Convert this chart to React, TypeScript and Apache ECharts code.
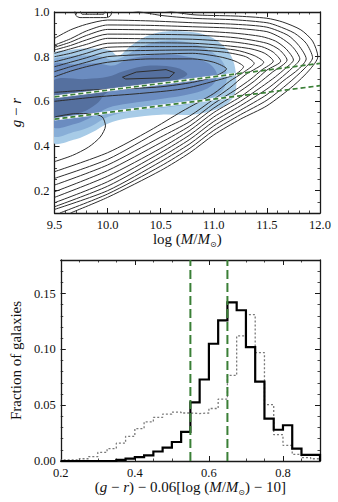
import React, { useEffect, useRef } from "react";
import * as echarts from "echarts";

const FONT = '"Liberation Serif", "DejaVu Serif", serif';
const AX = "#1a1a1a";

// ---------- top panel data ----------
const massTicks = [9.5, 10.0, 10.5, 11.0, 11.5, 12.0];
const colorTicks = [0.2, 0.4, 0.6, 0.8, 1.0];
const massRange = [9.5, 12.0];
const colorRange = [0.1, 1.0];

const cutMass = [9.5, 12.0];
const upperCut = [0.62, 0.77];
const lowerCut = [0.52, 0.67];
const whiteMass = [9.5, 11.2];
const upperWhite = [0.62, 0.722];
const lowerWhite = [0.52, 0.622];

const fillOuter = [[9.48,0.42],[9.7,0.43],[9.85,0.46],[10.0,0.5],[10.2,0.525],[10.5,0.54],[10.8,0.54],[11.0,0.56],[11.13,0.59],[11.2,0.636],[11.21,0.71],[11.18,0.785],[11.1,0.845],[10.95,0.893],[10.76,0.912],[10.52,0.912],[10.36,0.89],[10.21,0.845],[10.1,0.803],[10.02,0.83],[9.83,0.837],[9.65,0.83],[9.48,0.807]];
const fillMid = [[9.48,0.45],[9.7,0.465],[9.85,0.49],[10.0,0.53],[10.2,0.555],[10.5,0.57],[10.8,0.59],[11.0,0.62],[11.1,0.66],[11.12,0.72],[11.08,0.78],[10.95,0.83],[10.75,0.865],[10.5,0.87],[10.3,0.84],[10.15,0.8],[10.05,0.785],[9.95,0.8],[9.8,0.805],[9.6,0.8],[9.48,0.78]];
const fillDark = [[9.48,0.49],[9.7,0.5],[9.85,0.53],[10.0,0.57],[10.2,0.59],[10.5,0.61],[10.8,0.635],[10.98,0.67],[11.03,0.72],[10.95,0.77],[10.75,0.8],[10.5,0.81],[10.2,0.79],[10.05,0.76],[9.9,0.77],[9.7,0.765],[9.48,0.76]];
const fillDarkest = [[9.48,0.54],[9.75,0.55],[9.9,0.59],[10.0,0.64],[10.3,0.665],[10.6,0.69],[10.75,0.72],[10.65,0.75],[10.4,0.76],[10.15,0.735],[10.0,0.71],[9.8,0.7],[9.48,0.69]];
const fillShapes = [fillOuter, fillMid, fillDark, fillDarkest];
const fillColors = ["#a7cbe7", "#88aed7", "#6b8cc0", "#55709f"];

const contourLines = [
  [[9.65,0.1],[10.0,0.17],[10.5,0.29],[10.775,0.37],[11.0,0.45],[11.25,0.52],[11.5,0.58],[11.75,0.67],[11.9,0.74],[11.98,0.8],[11.93,0.87],[11.82,0.92],[11.65,0.955],[11.5,0.972],[11.2,0.982],[10.8,0.988],[10.5,1.01]],
  [[9.55,0.1],[10.0,0.185],[10.5,0.31],[10.775,0.39],[11.0,0.47],[11.25,0.54],[11.5,0.605],[11.7,0.68],[11.85,0.745],[11.93,0.795],[11.87,0.86],[11.76,0.905],[11.6,0.938],[11.5,0.952],[11.2,0.965],[10.8,0.972],[10.5,0.985],[10.2,1.01]],
  [[9.5,0.116],[10.0,0.2],[10.5,0.33],[10.775,0.41],[11.0,0.49],[11.25,0.56],[11.5,0.63],[11.65,0.69],[11.8,0.745],[11.87,0.79],[11.8,0.85],[11.7,0.895],[11.5,0.932],[11.2,0.945],[10.8,0.952],[10.4,0.96],[10.0,0.964],[9.8,0.945],[9.65,0.92],[9.5,0.882]],
  [[9.5,0.128],[10.0,0.22],[10.5,0.35],[10.775,0.43],[11.0,0.51],[11.25,0.58],[11.5,0.655],[11.62,0.7],[11.74,0.75],[11.81,0.79],[11.74,0.845],[11.63,0.885],[11.5,0.912],[11.2,0.927],[10.8,0.934],[10.4,0.94],[10.0,0.942],[9.8,0.915],[9.65,0.88],[9.5,0.852]],
  [[9.5,0.146],[10.0,0.24],[10.5,0.37],[10.775,0.45],[11.0,0.53],[11.25,0.6],[11.45,0.665],[11.58,0.71],[11.68,0.75],[11.75,0.785],[11.68,0.835],[11.58,0.87],[11.45,0.89],[11.2,0.905],[10.8,0.916],[10.4,0.92],[10.0,0.922],[9.8,0.895],[9.65,0.865],[9.5,0.842]],
  [[9.5,0.17],[10.0,0.265],[10.5,0.39],[10.775,0.47],[11.0,0.55],[11.25,0.62],[11.42,0.68],[11.55,0.73],[11.69,0.785],[11.62,0.83],[11.5,0.86],[11.2,0.885],[10.8,0.897],[10.4,0.9],[10.0,0.901],[9.8,0.875],[9.65,0.85],[9.5,0.83]],
  [[9.5,0.195],[10.0,0.29],[10.5,0.415],[10.775,0.49],[11.0,0.57],[11.2,0.63],[11.38,0.69],[11.5,0.74],[11.63,0.78],[11.56,0.82],[11.45,0.845],[11.2,0.865],[10.8,0.878],[10.4,0.88],[10.0,0.882],[9.8,0.855],[9.65,0.835],[9.5,0.815]],
  [[9.5,0.225],[10.0,0.315],[10.5,0.44],[10.775,0.51],[11.0,0.59],[11.2,0.65],[11.35,0.7],[11.45,0.74],[11.56,0.78],[11.48,0.815],[11.35,0.835],[11.1,0.85],[10.8,0.86],[10.4,0.862],[10.0,0.86],[9.8,0.835],[9.65,0.815],[9.5,0.8]],
  [[9.5,0.255],[10.0,0.34],[10.5,0.47],[10.775,0.535],[11.0,0.61],[11.15,0.66],[11.3,0.72],[11.47,0.775],[11.38,0.805],[11.2,0.83],[10.8,0.845],[10.4,0.845],[10.0,0.842],[9.8,0.815],[9.65,0.795],[9.5,0.777]],
  [[9.5,0.285],[10.0,0.37],[10.4,0.47],[10.7,0.555],[11.0,0.635],[11.15,0.69],[11.28,0.73],[11.38,0.77],[11.3,0.8],[11.1,0.82],[10.8,0.83],[10.4,0.828],[10.0,0.822],[9.8,0.795],[9.65,0.775],[9.5,0.755]],
  [[9.5,0.6],[9.9,0.62],[10.3,0.635],[10.7,0.655],[11.0,0.69],[11.2,0.72],[11.28,0.755],[11.2,0.78],[11.05,0.8],[10.8,0.815],[10.4,0.81],[10.0,0.8],[9.8,0.775],[9.65,0.755],[9.5,0.733]],
  [[9.5,0.64],[9.8,0.65],[10.1,0.655],[10.5,0.665],[10.8,0.685],[11.0,0.71],[11.12,0.745],[11.0,0.775],[10.8,0.79],[10.4,0.79],[10.0,0.775],[9.8,0.755],[9.65,0.735],[9.5,0.71]],
  [[10.14,0.708],[10.27,0.731],[10.55,0.742],[10.63,0.728],[10.58,0.706],[10.17,0.7],[10.14,0.708]],
  [[9.5,0.53],[9.7,0.545],[9.85,0.545],[9.95,0.53],[9.98,0.49],[9.93,0.44],[9.82,0.395],[9.67,0.358],[9.5,0.33]],
  [[9.69,1.01],[9.7,0.985],[9.74,0.975],[9.99,0.975],[10.03,0.985],[10.04,1.01]],
  [[9.74,1.01],[9.76,0.99],[9.96,0.99],[9.98,1.01]],
];

// ---------- bottom panel data ----------
const offsetTicks = [0.2, 0.4, 0.6, 0.8];
const fracTicks = [0, 0.05, 0.1, 0.15];
const offsetRange = [0.2, 0.9];
const fracRange = [0, 0.18];
const binWidth = 0.025;
const binLefts = [0.2,0.225,0.25,0.275,0.3,0.325,0.35,0.375,0.4,0.425,0.45,0.475,0.5,0.525,0.55,0.575,0.6,0.625,0.65,0.675,0.7,0.725,0.75,0.775,0.8,0.825,0.85,0.875];
const fracSolid = [0,0,0,0,0,0,0.001,0.0022,0.0035,0.005,0.0085,0.012,0.017,0.026,0.0525,0.073,0.105,0.126,0.142,0.135,0.102,0.071,0.038,0.028,0.032,0.011,0.0055,0.0055];
const fracDotted = [0.001,0.001,0.002,0.004,0.0077,0.011,0.016,0.022,0.029,0.035,0.039,0.042,0.0437,0.043,0.0425,0.043,0.047,0.0555,0.0766,0.112,0.131,0.097,0.0505,0.0236,0.014,0.006,0.003,0.002];
const cutValues = [0.55, 0.65];

function stepPoints(vals: number[]) {
  const pts: number[][] = [[binLefts[0], 0]];
  vals.forEach((v, i) => {
    pts.push([binLefts[i], v]);
    pts.push([binLefts[i] + binWidth, v]);
  });
  pts.push([binLefts[binLefts.length - 1] + binWidth, 0]);
  return pts;
}

const NAME_SIZE = 15;
const richStyles = {
  t: { fontFamily: FONT, fontSize: NAME_SIZE, color: "#111", lineHeight: 18 },
  i: { fontFamily: FONT, fontSize: NAME_SIZE, color: "#111", fontStyle: "italic", lineHeight: 18 },
  s: { fontFamily: "DejaVu Sans", fontSize: 8, color: "#111", lineHeight: 10, verticalAlign: "bottom" },
};

function makeAxes(grid: number, range: number[], majors: number[], minorStep: number,
  mainPos: string, oppPos: string, fmt: (v: number) => string, name: string, nameGap: number) {
  const base = { type: "value", gridIndex: grid, min: range[0], max: range[1], splitLine: { show: false } };
  const line = { show: true, onZero: false, lineStyle: { color: AX, width: 1.3 } };
  const major = { show: true, inside: true, length: 5, customValues: majors, lineStyle: { color: AX, width: 1 } };
  const minor = { show: true, inside: true, length: 2.5, lineStyle: { color: AX, width: 0.8 } };
  return [
    {
      ...base, position: mainPos, axisLine: line, axisTick: major,
      axisLabel: { show: true, customValues: majors, formatter: fmt, margin: 5, color: "#111", fontFamily: FONT, fontSize: 12.5 },
      name, nameLocation: "middle", nameGap,
      nameTextStyle: { fontFamily: FONT, fontSize: NAME_SIZE, color: "#111", rich: richStyles },
    },
    { ...base, position: mainPos, interval: minorStep, axisLine: { show: false, onZero: false }, axisTick: minor, axisLabel: { show: false } },
    { ...base, position: oppPos, axisLine: line, axisTick: major, axisLabel: { show: false } },
    { ...base, position: oppPos, interval: minorStep, axisLine: { show: false, onZero: false }, axisTick: minor, axisLabel: { show: false } },
  ];
}

export default function App() {
  const ref = useRef<HTMLDivElement>(null);
  useEffect(() => {
    if (!ref.current) return;
    const chart = echarts.init(ref.current, null, { renderer: "svg" });
    const series: any[] = [];

    series.push({
      type: "custom", xAxisIndex: 0, yAxisIndex: 0, clip: true, z: 1, silent: true,
      data: fillShapes.map((s) => s[Math.floor(s.length / 2)]),
      encode: { x: 0, y: 1 },
      renderItem: (params: any, api: any) => {
        const idx = params.dataIndex;
        const pts = fillShapes[idx].map((p) => api.coord(p));
        return { type: "polygon", shape: { points: pts, smooth: 0.35 }, style: { fill: fillColors[idx], stroke: "none" } };
      },
    });

    contourLines.forEach((c, i) => {
      series.push({
        type: "line", xAxisIndex: 0, yAxisIndex: 0, data: c, symbol: "none", smooth: i === 12 ? false : 0.25,
        z: 2, silent: true, clip: true,
        lineStyle: { color: "#2d2d2d", width: 1 },
      });
    });

    [upperWhite, lowerWhite].forEach((ys) => {
      series.push({
        type: "line", xAxisIndex: 0, yAxisIndex: 0, symbol: "none", z: 3, silent: true,
        data: whiteMass.map((x, j) => [x, ys[j]]),
        lineStyle: { color: "#ffffff", width: 2.6 },
      });
    });
    [upperCut, lowerCut].forEach((ys) => {
      series.push({
        type: "line", xAxisIndex: 0, yAxisIndex: 0, symbol: "none", z: 4, silent: true,
        data: cutMass.map((x, j) => [x, ys[j]]),
        lineStyle: { color: "#3a7f36", width: 1.7, type: [5, 3] },
      });
    });

    // bottom panel
    series.push({
      type: "line", xAxisIndex: 4, yAxisIndex: 4, symbol: "none", z: 2, silent: true,
      data: stepPoints(fracDotted),
      lineStyle: { color: "#7a7a7a", width: 1.3, type: [2, 2] },
    });
    series.push({
      type: "line", xAxisIndex: 4, yAxisIndex: 4, symbol: "none", z: 3, silent: true,
      data: stepPoints(fracSolid),
      lineStyle: { color: "#000000", width: 2.2, join: "miter" },
    });
    cutValues.forEach((c) => {
      series.push({
        type: "line", xAxisIndex: 4, yAxisIndex: 4, symbol: "none", z: 4, silent: true,
        data: [[c, fracRange[0]], [c, fracRange[1]]],
        lineStyle: { color: "#3a7f36", width: 2, type: [9, 4] },
      });
    });

    const xAxes = [
      ...makeAxes(0, massRange, massTicks, 0.1, "bottom", "top", (v) => v.toFixed(1),
        "{t|log (}{i|M}{t|/}{i|M}{s|⊙}{t|)}", 17),
      ...makeAxes(1, offsetRange, offsetTicks, 0.05, "bottom", "top", (v) => v.toFixed(1),
        "{t|(}{i|g}{t| − }{i|r}{t|) − 0.06[log (}{i|M}{t|/}{i|M}{s|⊙}{t|) − 10]}", 17),
    ];
    const yAxes = [
      ...makeAxes(0, colorRange, colorTicks, 0.05, "left", "right", (v) => v.toFixed(1),
        "{i|g}{t| − }{i|r}", 22),
      ...makeAxes(1, fracRange, fracTicks, 0.01, "left", "right", (v) => v.toFixed(2),
        "{t|Fraction of galaxies}", 29),
    ];

    chart.setOption({
      animation: false,
      backgroundColor: "#ffffff",
      grid: [
        { left: 51, top: 12, width: 269, height: 201, containLabel: false },
        { left: 51, top: 260, width: 269, height: 201, containLabel: false },
      ],
      xAxis: xAxes,
      yAxis: yAxes,
      series,
    });
    return () => chart.dispose();
  }, []);
  return (
    <div
      ref={ref}
      style={{ position: "fixed", left: 0, top: 0, width: 338, height: 502, background: "#fff" }}
    />
  );
}
